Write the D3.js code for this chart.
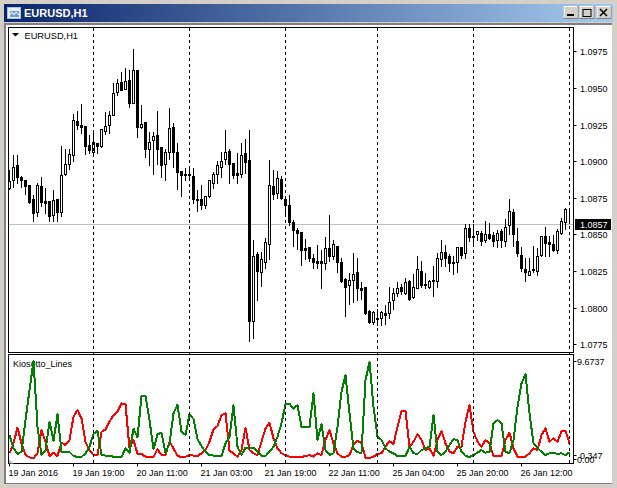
<!DOCTYPE html>
<html><head><meta charset="utf-8">
<script src="https://cdn.jsdelivr.net/npm/d3@7/dist/d3.min.js"></script>
<style>
html,body{margin:0;padding:0;background:#fff;overflow:hidden}
text{font-family:"Liberation Sans",Arial,sans-serif;font-size:9px;fill:#000}
</style></head><body>
<script>
const symbol = "EURUSD,H1";
const indicatorName = "Kiosotto_Lines";
const priceTicks = [1.0975,1.0950,1.0925,1.0900,1.0875,1.0850,1.0825,1.0800,1.0775];
const bidPrice = 1.0857;
const indicatorTicks = [["9.6737",9.6737],["0.347",0.347],["0.00",0]];
const timeLabels = ["19 Jan 2016","19 Jan 19:00","20 Jan 11:00","21 Jan 03:00","21 Jan 19:00","22 Jan 11:00","25 Jan 04:00","25 Jan 20:00","26 Jan 12:00"];
const timeLabelBars = [0,16,32,48,64,80,96,112,128];
const periodBars = [21,45,69,92,116,140];

const opens = [1.08818,1.08873,1.08976,1.08889,1.08873,1.08834,1.08739,1.08652,1.08828,1.08725,
1.08725,1.08634,1.08743,1.08652,1.08912,1.0898,1.09042,1.09272,1.09249,1.09237,
1.09108,1.09062,1.09126,1.09101,1.09206,1.09249,1.09315,1.09472,1.09538,1.0949,
1.09552,1.09397,1.0962,1.09231,1.09269,1.09083,1.09144,1.09176,1.09099,1.0898,
1.09062,1.09231,1.09064,1.08935,1.08914,1.0891,1.08896,1.08739,1.08739,1.08698,
1.08759,1.08853,1.08912,1.08962,1.09012,1.09067,1.08987,1.08916,1.08912,1.09058,
1.09005,1.07908,1.08363,1.08245,1.08313,1.08436,1.08828,1.08782,1.08875,1.08743,
1.08698,1.08588,1.0853,1.08516,1.08404,1.08416,1.08336,1.08316,1.08316,1.08304,
1.08404,1.08352,1.08423,1.08313,1.08193,1.08154,1.08188,1.08245,1.08136,1.0814,
1.07976,1.07901,1.07929,1.07931,1.07967,1.07965,1.08049,1.08102,1.08138,1.08102,
1.08181,1.08072,1.08136,1.08252,1.08165,1.0814,1.08188,1.08181,1.08333,1.08383,
1.08356,1.08315,1.0831,1.08415,1.08372,1.08547,1.08488,1.08504,1.08511,1.08461,
1.08504,1.08493,1.08463,1.08522,1.08454,1.08566,1.08654,1.08456,1.0836,1.08265,
1.08226,1.08265,1.08249,1.0836,1.08486,1.08445,1.08436,1.08393,1.08511,1.08586,1.08661];
const highs = [1.08937,1.09042,1.09044,1.08898,1.08873,1.08834,1.08766,1.08848,1.08889,1.08818,
1.08725,1.08805,1.08743,1.09101,1.0908,1.0908,1.0932,1.09342,1.09388,1.09237,
1.09176,1.09206,1.09126,1.09217,1.09338,1.09342,1.09531,1.09559,1.09609,1.09638,
1.0962,1.09768,1.0962,1.09381,1.09269,1.09201,1.09201,1.0934,1.09099,1.09085,
1.0936,1.09263,1.09126,1.08935,1.08953,1.08944,1.08951,1.088,1.08834,1.08762,
1.08873,1.08928,1.09001,1.09062,1.0921,1.0908,1.08987,1.09053,1.09126,1.09153,
1.0921,1.08459,1.08379,1.08379,1.08477,1.09005,1.08937,1.08932,1.08898,1.08746,
1.08766,1.08597,1.08541,1.08516,1.08466,1.08416,1.08363,1.08425,1.08393,1.08484,
1.0863,1.08459,1.08423,1.0834,1.082,1.08238,1.08375,1.0834,1.08177,1.0814,
1.07983,1.07976,1.07988,1.07976,1.08017,1.08143,1.08136,1.08177,1.08159,1.082,
1.08186,1.08227,1.08352,1.08318,1.08238,1.08192,1.08283,1.08374,1.08459,1.08431,
1.08363,1.08352,1.08415,1.08415,1.08568,1.08568,1.08568,1.08522,1.08522,1.08591,
1.08575,1.08516,1.08529,1.08534,1.08602,1.08743,1.08675,1.08545,1.08415,1.0834,
1.0834,1.08424,1.08409,1.08488,1.08554,1.08488,1.08495,1.08534,1.08613,1.08682,1.08682];
const lows = [1.08807,1.08825,1.08853,1.08823,1.08778,1.08712,1.08591,1.08623,1.08693,1.08648,
1.08591,1.08595,1.08589,1.08625,1.08903,1.08944,1.08998,1.09217,1.0919,1.09046,
1.09058,1.09042,1.09058,1.09096,1.09187,1.0919,1.09315,1.09449,1.09483,1.0949,
1.09372,1.09397,1.09162,1.09226,1.0903,1.08973,1.0891,1.08978,1.08891,1.08871,
1.09017,1.08957,1.08807,1.08762,1.08869,1.0888,1.08716,1.08659,1.08675,1.0868,
1.08755,1.08816,1.08848,1.08891,1.08978,1.08848,1.08885,1.08848,1.08891,1.08921,
1.07771,1.07794,1.08051,1.08151,1.0827,1.08331,1.08739,1.08746,1.08739,1.08632,
1.08563,1.08418,1.08398,1.08288,1.08329,1.08322,1.08268,1.08272,1.08131,1.08261,
1.08318,1.08329,1.08243,1.08177,1.07942,1.08022,1.08038,1.08049,1.08056,1.07954,
1.07892,1.0789,1.07885,1.07885,1.0789,1.07931,1.07988,1.08079,1.08095,1.08095,
1.08049,1.08063,1.08131,1.0814,1.08131,1.08135,1.08078,1.0814,1.08283,1.08283,
1.08249,1.08231,1.08242,1.0834,1.0834,1.08454,1.08431,1.08461,1.08431,1.08447,
1.0847,1.0842,1.08415,1.08415,1.0842,1.085,1.0842,1.08352,1.08249,1.08181,
1.0822,1.08242,1.08226,1.08356,1.08356,1.08352,1.08388,1.08374,1.08504,1.08534,1.08579];
const closes = [1.08866,1.08962,1.08891,1.08871,1.0883,1.08721,1.08645,1.08834,1.08721,1.08714,
1.08625,1.08737,1.08652,1.08907,1.08978,1.09046,1.09278,1.09244,1.09231,1.09103,
1.09074,1.09133,1.09103,1.09217,1.09237,1.09317,1.09467,1.09536,1.09488,1.09549,
1.09397,1.09625,1.09233,1.09256,1.09083,1.09133,1.09174,1.09083,1.08973,1.09064,
1.09228,1.09062,1.08925,1.08903,1.08907,1.08907,1.08739,1.08734,1.08698,1.08759,
1.08869,1.0891,1.08976,1.09003,1.09064,1.0898,1.08905,1.08905,1.09044,1.08994,
1.07908,1.08354,1.08249,1.08329,1.08445,1.08834,1.08775,1.08887,1.08752,1.087,
1.08582,1.08529,1.08509,1.08393,1.08393,1.08336,1.08311,1.08304,1.08304,1.08404,
1.0835,1.08436,1.08313,1.08181,1.0814,1.08186,1.08231,1.08131,1.0812,1.07963,
1.07901,1.0797,1.07924,1.07972,1.07951,1.0804,1.08102,1.08136,1.08111,1.08177,
1.08056,1.08143,1.08266,1.08152,1.08154,1.08185,1.08183,1.08336,1.08383,1.08338,
1.08304,1.08304,1.08415,1.08358,1.08545,1.08484,1.08484,1.08522,1.08454,1.08504,
1.08479,1.08454,1.08511,1.08461,1.08552,1.08661,1.085,1.08372,1.0827,1.08242,
1.08249,1.0826,1.08354,1.08486,1.0844,1.08434,1.08393,1.08525,1.08591,1.08675,1.08657];
const greenValues = [2.39,1.08,.52,.75,3.86,6.81,9.67,3.21,.42,.85,3.70,1.80,4.45,.75,.75,.72,.32,.23,.23,.59,
1.24,2.49,2.81,.42,.36,.32,.26,.23,.23,1.08,.65,3.01,2.16,6.22,6.22,3.86,.98,2.45,2.62,.59,
1.57,4.52,5.37,2.71,2.39,4.42,3.96,1.96,1.31,.75,.42,.36,.32,.32,1.57,2.22,5.30,1.24,.42,1.14,
1.14,1.14,.75,.36,.32,.75,1.24,2.22,3.53,5.46,5.46,5.0,5.33,3.21,3.21,3.21,6.48,1.9,3.43,.91,
.42,.59,3.21,6.64,8.28,4.52,1.08,.68,.65,7.79,9.59,5.17,2.22,1.9,1.08,.75,.59,.32,.32,.32,
1.24,.59,.52,.91,1.08,1.24,4.35,.75,.42,.75,1.40,1.99,1.9,.75,.32,.23,.42,.65,.91,.65,
.75,3.53,3.86,3.53,.75,.59,1.9,5.17,7.46,8.38,4.52,1.57,1.08,.75,.42,.59,.65,.52,.59,.42,.68];
const redValues = [.59,1.57,3.11,1.57,.42,.19,.09,.59,2.88,1.73,.32,.65,.32,1.63,1.40,1.9,4.19,4.84,4.02,1.73,
.85,.42,.42,2.71,2.94,3.70,4.35,4.68,5.50,5.40,1.08,1.9,.52,.52,.26,.23,.23,.98,.42,.42,
1.73,1.08,.32,.23,.26,.42,.36,.32,.59,.91,1.73,2.94,3.27,4.35,4.52,.85,.59,.23,.91,3.11,
.91,.59,.42,1.73,3.04,3.60,2.06,1.08,.59,.42,.26,.23,.23,.23,.32,.42,.26,.59,.42,1.9,
2.88,1.57,.59,.26,.26,.42,1.40,1.83,1.57,.16,.13,.26,.52,.59,1.24,1.80,1.50,3.21,4.74,4.74,
1.24,1.73,2.49,1.9,.91,1.08,.32,1.9,2.81,1.57,.75,.59,1.24,1.24,3.70,5.33,2.71,1.73,1.24,1.9,
1.57,.32,.32,.32,1.9,2.62,1.08,.26,.23,.26,.59,1.08,.91,2.39,3.04,1.73,2.06,1.73,2.78,2.78,1.57];

const W=617,H=488;
const frame={l:8.5,r:573.5,t:27.5,mainB:352.5,subT:354.5,subB:463.5};
const svg=d3.select("body").append("svg").attr("width",W).attr("height",H).style("display","block");
const defs=svg.append("defs");
const grad=defs.append("linearGradient").attr("id","tb");
grad.append("stop").attr("offset","0").attr("stop-color","#0a246a");
grad.append("stop").attr("offset","1").attr("stop-color","#a6caf0");

// window chrome
svg.append("rect").attr("width",W).attr("height",H).attr("fill","#d4d0c8");
svg.append("rect").attr("x",4).attr("y",4).attr("width",609).attr("height",18).attr("fill","url(#tb)");
svg.append("rect").attr("x",4).attr("y",23).attr("width",609).attr("height",461).attr("fill","#808080");
svg.append("rect").attr("x",6).attr("y",25).attr("width",606).attr("height",458).attr("fill","#fff");
svg.append("rect").attr("x",612).attr("y",23).attr("width",1).attr("height",461).attr("fill","#d4d0c8");
svg.append("text").attr("x",24).attr("y",17).text(symbol)
  .style("font-weight","bold").style("font-size","11px").style("fill","#fff");
// title icon
const ic=svg.append("g");
ic.append("rect").attr("x",7.5).attr("y",7.5).attr("width",13).attr("height",11).attr("fill","#e8f0fa").attr("stroke","#a9c4e6");
ic.append("rect").attr("x",10).attr("y",11).attr("width",9).attr("height",6).attr("fill","#6f9ad2");
ic.append("path").attr("d","M10 15l2-3 2 3 2-3 3 3").attr("fill","none").attr("stroke","#fff");
// window buttons
[[564,"min"],[580,"max"],[597,"close"]].forEach(([x,k])=>{
  const w=15;
  const g=svg.append("g");
  g.append("rect").attr("x",x-.5).attr("y",6).attr("width",w).attr("height",13).attr("fill","#808080");
  g.append("rect").attr("x",x-.5).attr("y",6).attr("width",w-1).attr("height",12).attr("fill","#fff");
  g.append("rect").attr("x",x+.5).attr("y",7).attr("width",w-2).attr("height",11).attr("fill","#d4d0c8");
  if(k==="min")g.append("rect").attr("x",x+3).attr("y",14).attr("width",7).attr("height",2).attr("fill","#000");
  if(k==="max")g.append("rect").attr("x",x+3).attr("y",9.5).attr("width",8).attr("height",7).attr("fill","none").attr("stroke","#000");
  if(k==="close")g.append("path").attr("d",`M${x+3} 9L${x+10} 16M${x+10} 9L${x+3} 16`).attr("stroke","#000").attr("stroke-width",1.5);
});

// scales
const x=d3.scaleLinear().domain([0,140]).range([9.5,569.5]);
const y=d3.scaleLinear().domain([1.0775,1.0975]).range([344.8,51.8]);
const ySub=d3.scaleLinear().domain([0,9.6737]).range([459.3,361]);
const snap=v=>Math.round(v-.5)+.5;

// bid line
svg.append("line").attr("x1",frame.l).attr("x2",frame.r)
  .attr("y1",snap(y(bidPrice))).attr("y2",snap(y(bidPrice))).attr("stroke","#c0c0c0");

// candles
const bars=d3.range(opens.length).map(i=>({i,o:opens[i],h:highs[i],l:lows[i],c:closes[i]}));
const candles=svg.append("g").selectAll("g").data(bars).join("g");
candles.append("line").attr("x1",d=>x(d.i)).attr("x2",d=>x(d.i))
  .attr("y1",d=>snap(y(d.h))-.5).attr("y2",d=>snap(y(d.l))+.5).attr("stroke","#000");
candles.append("rect")
  .attr("x",d=>x(d.i)-1)
  .attr("y",d=>snap(y(Math.max(d.o,d.c))))
  .attr("width",2)
  .attr("height",d=>Math.max(0,snap(y(Math.min(d.o,d.c)))-snap(y(Math.max(d.o,d.c)))))
  .attr("fill",d=>d.c>d.o?"#fff":"#000").attr("stroke","#000");

// frames
const fr=svg.append("g").attr("fill","none").attr("stroke","#000");
fr.append("rect").attr("x",frame.l).attr("y",frame.t).attr("width",frame.r-frame.l).attr("height",frame.mainB-frame.t);
fr.append("rect").attr("x",frame.l).attr("y",frame.subT).attr("width",frame.r-frame.l).attr("height",frame.subB-frame.subT);

// header labels
svg.append("path").attr("d","M12 33h7l-3.5 3.5z").attr("fill","#000");
svg.append("text").attr("x",24.5).attr("y",38.5).text(symbol).style("font-size","9.25px");
svg.append("text").attr("x",13).attr("y",367).text(indicatorName);
svg.append("path").attr("d","M9 459L14 463.5H9z").attr("fill","#c8c8c8");

// indicator lines
const line=d3.line().x((d,i)=>x(i)).y(d=>ySub(d));
svg.append("path").datum(redValues).attr("d",line).attr("fill","none").attr("stroke","#ff0000").attr("stroke-width",2).attr("stroke-linejoin","round").attr("shape-rendering","crispEdges");
svg.append("path").datum(greenValues).attr("d",line).attr("fill","none").attr("stroke","#008000").attr("stroke-width",2).attr("stroke-linejoin","round").attr("shape-rendering","crispEdges");

// period separators
svg.append("g").selectAll("line").data(periodBars).join("line")
  .attr("x1",d=>x(d)).attr("x2",d=>x(d)).attr("y1",28).attr("y2",463)
  .attr("stroke","#000").attr("stroke-dasharray","3,3");

// price axis
const pa=svg.append("g");
pa.selectAll("line").data(priceTicks).join("line")
  .attr("x1",frame.r).attr("x2",frame.r+3).attr("y1",d=>snap(y(d))).attr("y2",d=>snap(y(d))).attr("stroke","#000");
pa.selectAll("text").data(priceTicks).join("text")
  .attr("x",580).attr("y",d=>y(d)+3.5).text(d=>d.toFixed(4));
svg.append("rect").attr("x",575).attr("y",219).attr("width",36).attr("height",11).attr("fill","#000");
svg.append("text").attr("x",580).attr("y",228).text(bidPrice.toFixed(4)).style("fill","#fff");

// indicator axis
const ia=svg.append("g");
ia.selectAll("line").data(indicatorTicks).join("line")
  .attr("x1",frame.r).attr("x2",frame.r+3).attr("y1",d=>snap(ySub(d[1]))).attr("y2",d=>snap(ySub(d[1]))).attr("stroke","#000");
ia.selectAll("text").data(indicatorTicks).join("text")
  .attr("x",d=>d[0]==="0.347"?580:577).attr("y",d=>ySub(d[1])+3.5).text(d=>d[0]);

// time axis
const ta=svg.append("g");
ta.selectAll("line").data(timeLabelBars).join("line")
  .attr("x1",d=>x(d)).attr("x2",d=>x(d)).attr("y1",frame.subB).attr("y2",frame.subB+3).attr("stroke","#000");
ta.selectAll("text").data(timeLabels).join("text")
  .attr("x",(d,i)=>x(timeLabelBars[i])-1).attr("y",475.5).text(d=>d);
</script>
</body></html>
